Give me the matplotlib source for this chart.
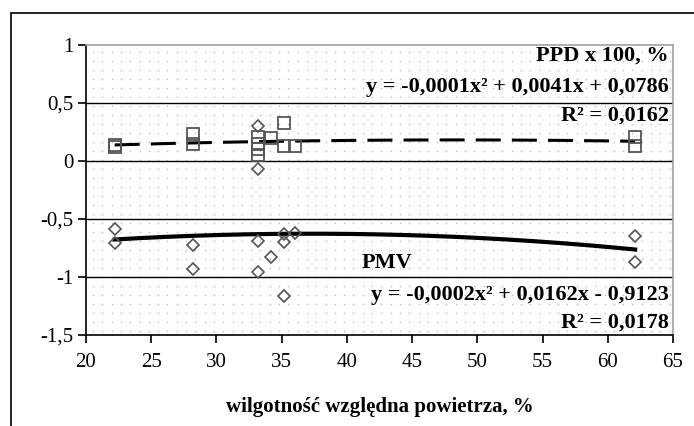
import numpy as np
import matplotlib
matplotlib.use("Agg")
import matplotlib.pyplot as plt
from matplotlib.patches import Rectangle
from matplotlib.ticker import FuncFormatter

plt.rcParams['font.family'] = ['Liberation Serif', 'DejaVu Serif']
plt.rcParams['lines.scale_dashes'] = False

# PPD x 100 (squares)
ppd_x = [22.2, 22.2, 28.2, 28.2, 33.2, 33.2, 33.2, 33.2, 34.2, 35.2, 35.2, 36.0, 62.1, 62.1]
ppd_y = [0.12, 0.14, 0.23, 0.15, 0.21, 0.15, 0.10, 0.05, 0.20, 0.33, 0.13, 0.13, 0.21, 0.13]

# PMV (diamonds)
pmv_x = [22.2, 22.2, 28.2, 28.2, 33.2, 33.2, 33.2, 33.2, 34.2, 35.2, 35.2, 35.2, 36.0, 62.1, 62.1]
pmv_y = [-0.59, -0.71, -0.72, -0.93, 0.30, -0.07, -0.69, -0.96, -0.83, -0.63, -0.70, -1.16, -0.62, -0.65, -0.87]

x_ticks = [20, 25, 30, 35, 40, 45, 50, 55, 60, 65]
y_ticks = [-1.5, -1.0, -0.5, 0.0, 0.5, 1.0]

ppd_label = "PPD x 100, %"
ppd_eq = "y = -0,0001x² + 0,0041x + 0,0786"
ppd_r2 = "R² = 0,0162"
pmv_label = "PMV"
pmv_eq = "y = -0,0002x² + 0,0162x - 0,9123"
pmv_r2 = "R² = 0,0178"
xlabel = "wilgotność względna powietrza, %"

fig = plt.figure(figsize=(6.94, 4.26), dpi=100)
fig.patch.set_facecolor('white')

# outer frame (left/top visible)
fig.add_artist(Rectangle((11/694, -0.5), 2.0, 1.5 - 13/426, transform=fig.transFigure,
                         fill=False, edgecolor='black', linewidth=1.2, zorder=0))

ax = fig.add_axes([86/694, 1 - 335/426, 587/694, 290/426])
ax.set_xlim(20, 65)
ax.set_ylim(-1.5, 1.0)

# dotted pattern background
gx, gy = np.meshgrid(np.arange(0.012, 1.0, 9.3/587), np.arange(0.015, 1.0, 9.0/290))
ax.plot(gx.ravel(), gy.ravel(), linestyle='none', marker='s', markersize=1.0,
        markeredgewidth=0, color='#bdbdbd', transform=ax.transAxes, zorder=0)

# horizontal gridlines
for yv in y_ticks[1:-1]:
    ax.axhline(yv, color='black', linewidth=1.0, zorder=1)

# fits
xf_p = np.linspace(min(ppd_x), max(ppd_x), 200)
cp = np.polyfit(ppd_x, ppd_y, 2)
ax.plot(xf_p, np.polyval(cp, xf_p), color='black', linewidth=2.2, dashes=(18, 8), zorder=3)

xf_m = np.linspace(min(pmv_x), max(pmv_x), 200)
cm = np.polyfit(pmv_x, pmv_y, 2)
ax.plot(xf_m, np.polyval(cm, xf_m), color='black', linewidth=3.0, zorder=3)

ax.plot(ppd_x, ppd_y, linestyle='none', marker='s', markersize=8.5, markerfacecolor='none',
        markeredgecolor='#555555', markeredgewidth=1.3, zorder=4)
ax.plot(pmv_x, pmv_y, linestyle='none', marker='D', markersize=6.5, markerfacecolor='none',
        markeredgecolor='#555555', markeredgewidth=1.2, zorder=4)

ax.set_xticks(x_ticks)
ax.set_yticks(y_ticks)
ax.yaxis.set_major_formatter(FuncFormatter(lambda v, p: ('%g' % v).replace('.', ',')))
ax.tick_params(axis='both', direction='out', length=6, width=1.2, labelsize=15, color='black')
ax.tick_params(axis='x', pad=7)
ax.tick_params(axis='y', pad=3)
for s in ['left', 'bottom']:
    ax.spines[s].set_color('black')
    ax.spines[s].set_linewidth(1.2)
for s in ['top', 'right']:
    ax.spines[s].set_color('#a0a0a0')
    ax.spines[s].set_linewidth(1.2)

ax.set_xlabel(xlabel, fontsize=15, fontweight='bold', labelpad=18)

def px(xp, yp):
    return (xp / 694, 1 - yp / 426)

tk = dict(transform=fig.transFigure, fontsize=16, fontweight='bold', va='center', zorder=5)
fig.text(*px(669, 56), ppd_label, ha='right', **tk)
fig.text(*px(669, 87), ppd_eq, ha='right', **tk)
fig.text(*px(669, 116), ppd_r2, ha='right', **tk)
fig.text(*px(362, 263), pmv_label, ha='left', **tk)
fig.text(*px(669, 295), pmv_eq, ha='right', **tk)
fig.text(*px(669, 323), pmv_r2, ha='right', **tk)

fig.savefig('out.png', dpi=100, facecolor='white')
